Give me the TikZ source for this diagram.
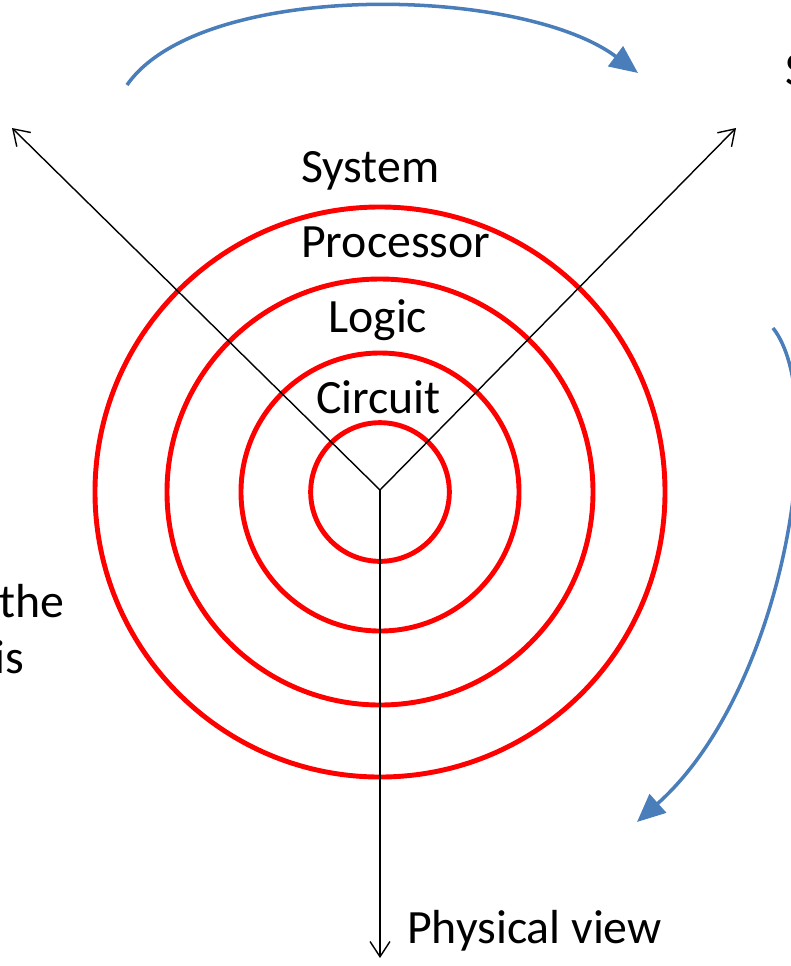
\documentclass[tikz,border=0pt]{standalone}
\usepackage{fontspec}
\setmainfont{Carlito}
\usetikzlibrary{arrows.meta}

\definecolor{ringred}{RGB}{255,0,0}
\definecolor{flowblue}{RGB}{74,126,187}

\tikzset{
  ring/.style={draw=ringred, line width=4.2pt},
  axis/.style={line width=1.2pt, -{Straight Barb[length=13pt,width=17pt,line width=1.2pt]}},
  flow/.style={draw=flowblue, line width=3pt, -{Triangle[length=24pt,width=21pt]}},
  lbl/.style={inner sep=0pt, font=\fontsize{40.8}{48}\selectfont}
}

\begin{document}
\begin{tikzpicture}[x=0.03cm,y=-0.03cm]

% Frame
\useasboundingbox (0,0) rectangle (791,966);
\clip (0,0) rectangle (791,966);

% Centre and axis ends
\coordinate (o) at (380,490);
\coordinate (c) at (380,492);
\coordinate (tl) at (12,128);
\coordinate (tr) at (736,128);
\coordinate (bt) at (380,958);

% Rings
\draw[ring] (c) circle[radius=2.08cm];
\draw[ring] (c) circle[radius=4.17cm];
\draw[ring] (c) circle[radius=6.39cm];
\draw[ring] (c) circle[radius=8.55cm];

% Axes
\draw[axis] (o) -- (tl);
\draw[axis] (o) -- (tr);
\draw[axis] (o) -- (bt);

% Level labels
\node[lbl, anchor=base west] (sys) at (301,182) {System};
\node[lbl, anchor=base west] (proc) at (301,257) {Processor};
\node[lbl, anchor=base west] (logic) at (328,332) {Logic};
\node[lbl, anchor=base west] (circ) at (316,413) {Circuit};

% View labels
\node[lbl, anchor=base west] (phys) at (407,943) {Physical view};
\node[lbl, anchor=base west] (struct) at (785,85) {S};
\node[lbl, anchor=base east] (behA) at (65,617) {the};
\node[lbl, anchor=base east] (behB) at (24,673) {is};

% Blue arrows
\coordinate (a1s) at (127,85);
\coordinate (a1e) at (638,73);
\coordinate (a2s) at (773,328);
\coordinate (a2e) at (637,822);
\draw[flow] (a1s) .. controls (200,-20) and (520,-15) .. (a1e);
\draw[flow] (a2s) .. controls (830,400) and (785,690) .. (a2e);

\end{tikzpicture}
\end{document}
